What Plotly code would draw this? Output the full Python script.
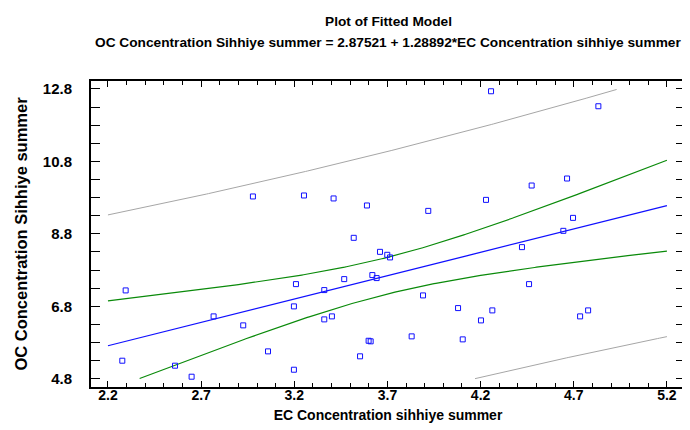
import numpy as np
import plotly.graph_objects as go

ec = [2.295, 2.277, 2.560, 2.649, 2.767, 2.926, 2.978, 3.059, 3.198, 3.209,
      3.198, 3.252, 3.361, 3.361, 3.402, 3.411, 3.468, 3.519, 3.553, 3.590,
      3.599, 3.610, 3.619, 3.642, 3.660, 3.699, 3.714,
      4.256, 4.832, 3.919, 4.229, 4.474, 4.664, 4.696, 4.644, 4.422, 4.460,
      3.891, 4.079, 4.263, 4.202, 3.830, 4.104, 4.734, 4.777]
oc = [7.238, 5.297, 5.159, 4.855, 6.521, 6.273, 9.832, 5.555, 6.797, 7.412,
      5.048, 9.859, 7.247, 6.438, 6.521, 9.777, 7.550, 8.690, 5.418, 9.583,
      5.848, 5.832, 7.661, 7.578, 8.303, 8.221, 8.149,
      12.737, 12.323, 9.434, 9.738, 10.134, 10.328, 9.241, 8.883, 8.433, 7.412,
      7.100, 6.750, 6.686, 6.410, 5.969, 5.886, 6.521, 6.686]

INTERCEPT = 2.87521
SLOPE = 1.28892
T95 = 2.0167  # t quantile, 95%, df = n - 2 = 43

x_ticks = [2.2, 2.7, 3.2, 3.7, 4.2, 4.7, 5.2]
y_ticks = [4.8, 6.8, 8.8, 10.8, 12.8]

title1 = "Plot of Fitted Model"
title2 = "OC Concentration Sihhiye summer = 2.87521 + 1.28892*EC Concentration sihhiye summer"

x = np.array(ec)
y = np.array(oc)
n = len(x)
resid = y - (INTERCEPT + SLOPE * x)
s = np.sqrt(np.sum(resid ** 2) / (n - 2))
xbar = x.mean()
sxx = np.sum((x - xbar) ** 2)

grid = np.linspace(2.2, 5.2, 301)
fit = INTERCEPT + SLOPE * grid
a = 1.0 / n + (grid - xbar) ** 2 / sxx
ci = T95 * s * np.sqrt(a)
pi = T95 * s * np.sqrt(1 + a)


def clip(v):
    return [float(t) if 4.8 <= t <= 12.8 else None for t in v]


fig = go.Figure()
gray = "#a6a6a6"
green = "#0a8a0a"
blue = "#1010ff"
for yy in (fit + pi, fit - pi):
    fig.add_trace(go.Scatter(x=grid, y=clip(yy), mode="lines",
                             line=dict(color=gray, width=1), hoverinfo="skip"))
for yy in (fit + ci, fit - ci):
    fig.add_trace(go.Scatter(x=grid, y=clip(yy), mode="lines",
                             line=dict(color=green, width=1.2), hoverinfo="skip"))
fig.add_trace(go.Scatter(x=grid, y=clip(fit), mode="lines",
                         line=dict(color=blue, width=1.2)))
fig.add_trace(go.Scatter(x=ec, y=oc, mode="markers",
                         marker=dict(symbol="square-open", size=5, color=blue,
                                     line=dict(width=1, color=blue))))

font = "Liberation Sans, Arial, sans-serif"
PLOT_TOP, PLOT_BOTTOM = 73, 379


def ypaper(py):
    return (PLOT_BOTTOM - py) / (PLOT_BOTTOM - PLOT_TOP)


fig.add_annotation(text=f"<b>{title1}</b>", xref="paper", yref="paper",
                   x=0.5, y=ypaper(13), xanchor="center", yanchor="middle",
                   showarrow=False, font=dict(size=13.7, family=font))
fig.add_annotation(text=f"<b>{title2}</b>", xref="paper", yref="paper",
                   x=0.5, y=ypaper(34), xanchor="center", yanchor="middle",
                   showarrow=False, font=dict(size=13.7, family=font))

fig.update_layout(
    width=690, height=430,
    margin=dict(l=83, r=13, t=PLOT_TOP, b=430 - PLOT_BOTTOM),
    paper_bgcolor="white", plot_bgcolor="white",
    showlegend=False,
    font=dict(family=font, color="black", size=14),
    xaxis=dict(
        range=[2.109, 5.297], tickvals=x_ticks,
        ticktext=[f"<b>{v}</b>" for v in x_ticks],
        ticks="inside", ticklen=6, tickwidth=1, tickcolor="black",
        minor=dict(dtick=0.1, tick0=2.2, ticks="inside", ticklen=4,
                   tickcolor="black", showgrid=False),
        showline=True, linecolor="black", linewidth=2, mirror="ticks",
        showgrid=False, zeroline=False, ticklabelstandoff=-6,
        tickfont=dict(size=14),
        title=dict(text="<b>EC Concentration sihhiye summer</b>",
                   font=dict(size=14), standoff=8),
    ),
    yaxis=dict(
        range=[4.571, 13.02], tickvals=y_ticks,
        ticktext=[f"<b>{v}</b>" for v in y_ticks],
        ticks="inside", ticklen=9, tickwidth=1, tickcolor="black",
        minor=dict(dtick=0.5, tick0=4.8, ticks="inside", ticklen=9,
                   tickcolor="black", showgrid=False),
        showline=True, linecolor="black", linewidth=2, mirror="ticks",
        showgrid=False, zeroline=False, ticklabelstandoff=14,
        tickfont=dict(size=15),
        title=dict(text="<b>OC Concentration Sihhiye summer</b>",
                   font=dict(size=16.5), standoff=11),
    ),
)

fig.write_html("out.html")
